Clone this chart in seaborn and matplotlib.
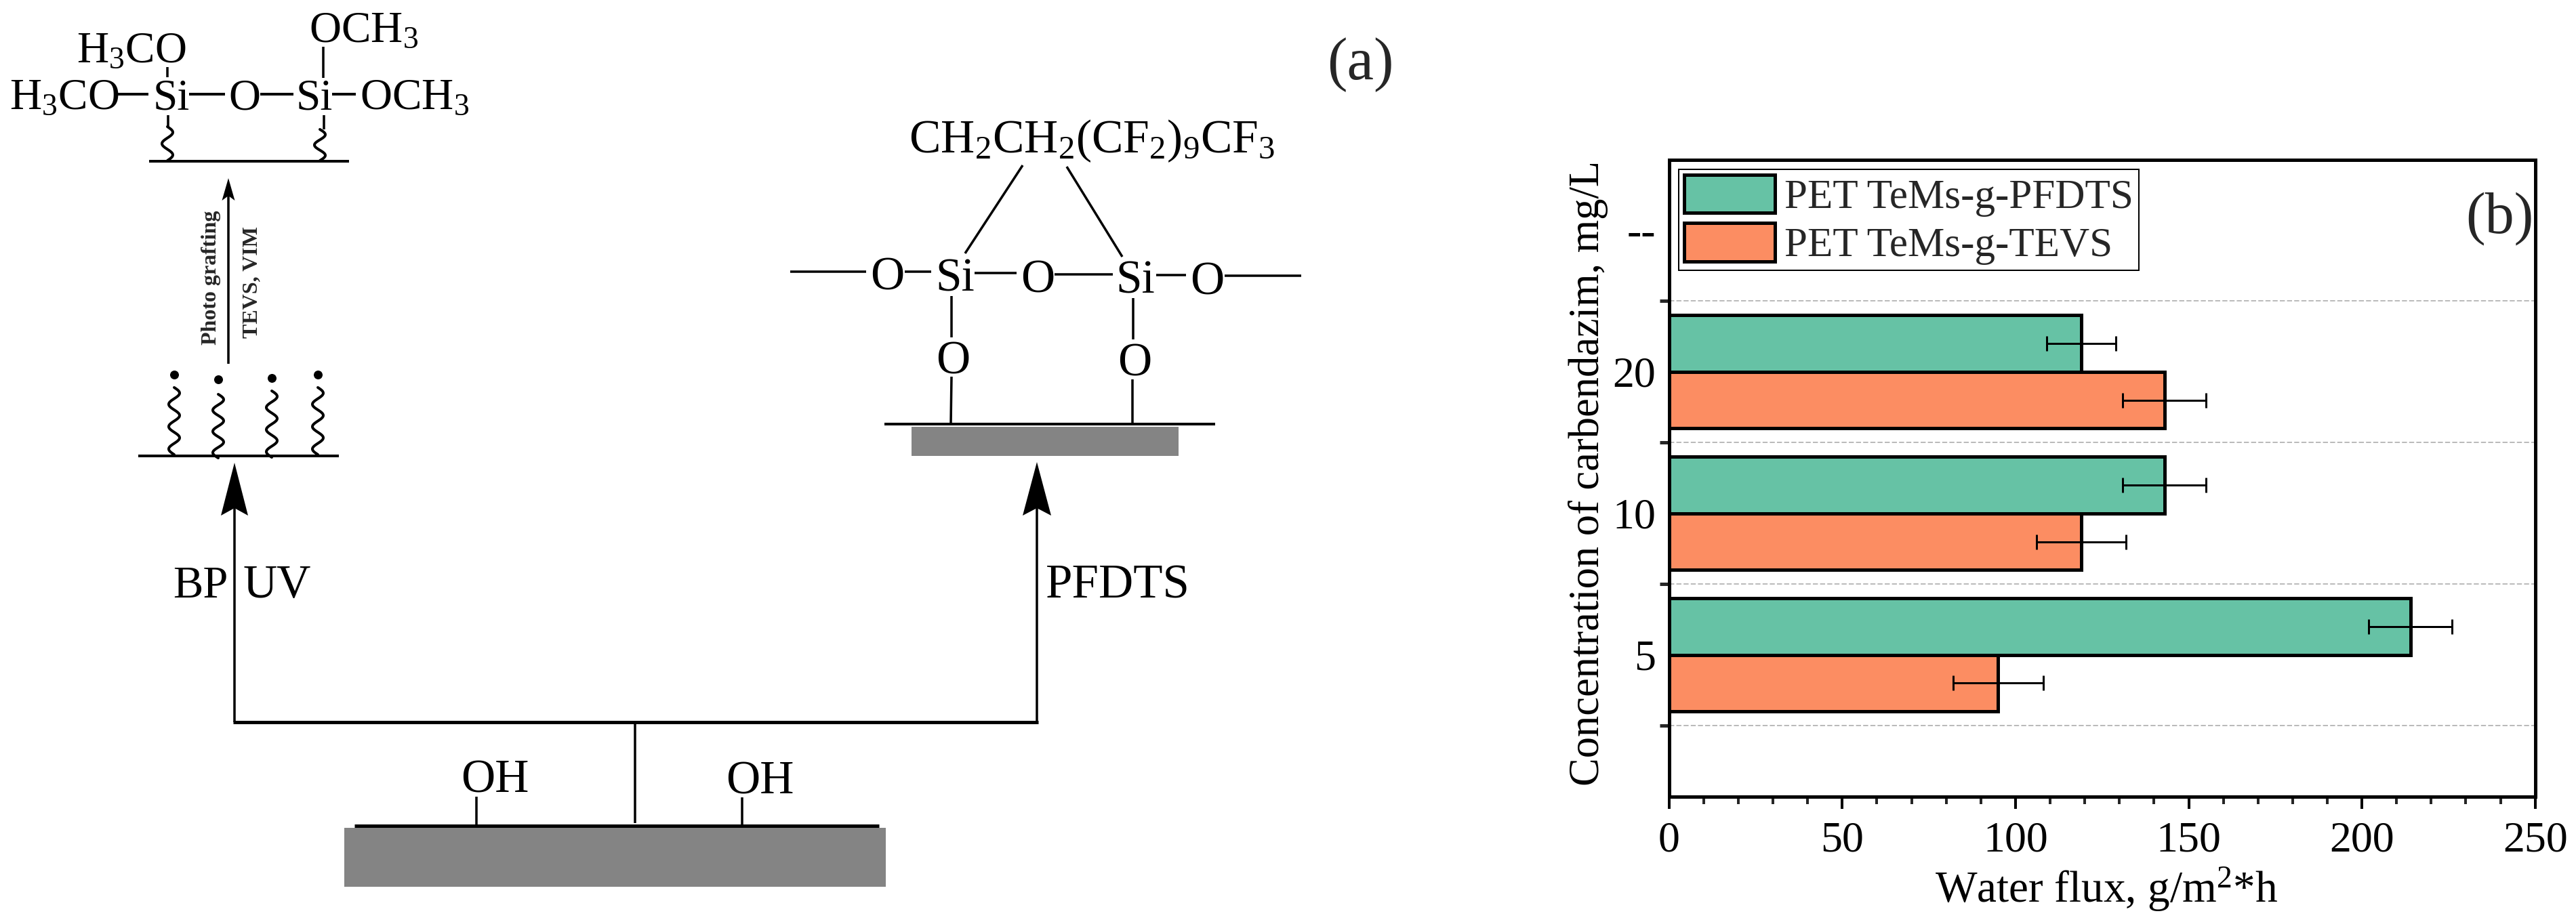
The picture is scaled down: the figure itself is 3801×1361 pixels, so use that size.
import numpy as np
import pandas as pd
import seaborn as sns
import matplotlib.pyplot as plt
from matplotlib.patches import Polygon, Rectangle

# panel (b) values
concentrations = ["5", "10", "20"]
flux_pfdts = [214, 143, 119]
flux_tevs = [95, 119, 143]
err_pfdts = [12, 12, 10]
err_tevs = [13, 13, 12]
order = ["--", "20", "10", "5"]
membranes = ["PET TeMs-g-PFDTS", "PET TeMs-g-TEVS"]
flux_ticks = [0, 50, 100, 150, 200, 250]

W, H = 3801, 1361
SERIF = "Liberation Serif"

sns.set_theme(style="white", palette="Set2")
plt.rcParams["font.family"] = [SERIF, "DejaVu Serif"]
plt.rcParams["mathtext.fontset"] = "custom"
plt.rcParams["mathtext.rm"] = SERIF
plt.rcParams["mathtext.it"] = SERIF
plt.rcParams["mathtext.bf"] = SERIF + ":bold"

fig = plt.figure(figsize=(W / 100, H / 100), dpi=100, facecolor="white")

# scheme (a) is drawn in pixel coordinates of the figure
sk = fig.add_axes([0, 0, 1, 1])
sk.set_xlim(0, W)
sk.set_ylim(H, 0)
sk.axis("off")


def px(p):
    return p * 0.72


def bond(x0, y0, x1, y1, w=3.5):
    sk.plot([x0, x1], [y0, y1], color="black", lw=px(w), solid_capstyle="butt")


def label(x, y, s, size=47, **kw):
    sk.text(x, y, s, fontsize=size, ha="left", va="baseline", color="black", **kw)


def wiggle(x, y0, y1, periods, amp=8):
    t = np.linspace(0, 1, 120)
    sk.plot(x + amp * np.sin(2 * np.pi * periods * t), y0 + (y1 - y0) * t,
            color="black", lw=px(4))


def arrow(x, tip, tail, half, head, notch, w=3.5):
    bond(x, tail, x, tip + head * 0.5, w)
    sk.add_patch(Polygon([(x, tip), (x - half, tip + head), (x, tip + notch),
                          (x + half, tip + head)], closed=True, fc="black", ec="none"))


# lower left: substrate with OH groups
sk.add_patch(Rectangle((508, 1222), 799, 87, fc="#848484", ec="none"))
bond(523, 1219, 1297, 1219, 5)
bond(703, 1176, 703, 1217)
bond(1095, 1177, 1095, 1217)
bond(937, 1067, 937, 1215)
label(680, 1170, "OH", size=50)
label(1071, 1171, "OH", size=50)
bond(344, 1065.5, 1532, 1065.5, 5)
arrow(346, 683, 1066, 20, 78, 67)
arrow(1530, 682, 1066, 21, 79, 68)
label(255, 882, "BP", size=48)
label(358, 882, "UV", size=50)
label(1543, 882, "PFDTS", size=51)

# radicals on the photo-grafted surface
bond(204, 673, 500, 673, 4)
for x, dot_y, y0, y1 in [(257, 553, 572, 671), (322, 560, 582, 676),
                         (401, 558, 577, 675), (469, 553, 572, 671)]:
    sk.plot([x], [dot_y], "o", color="black", ms=px(13), mew=0)
    wiggle(x, y0, y1, 3)

arrow(337, 263, 537, 9.5, 33, 26, 3.5)
sk.text(312, 410, "Photo grafting", fontsize=23, fontweight="bold", rotation=90,
        ha="center", va="center")
sk.text(372, 417, "TEVS, VIM", fontsize=23, fontweight="bold", rotation=90,
        ha="center", va="center")

# grafted siloxane, top left
label(113, 92, r"$\mathrm{H_3CO}$")
label(14, 161, r"$\mathrm{H_3CO}$")
label(226, 161, "Si")
label(337, 161, "O")
label(437, 161, "Si")
label(531, 161, r"$\mathrm{OCH_3}$")
label(456, 62, r"$\mathrm{OCH_3}$")
for x0, x1 in [(173, 219), (279, 332), (384, 433), (490, 525)]:
    bond(x0, 139, x1, 139, 4)
bond(247, 99, 247, 114)
bond(477, 69, 477, 115)
bond(248, 170, 248, 187)
bond(478, 170, 478, 191)
wiggle(247, 187, 237, 1.5)
wiggle(472, 191, 237, 1.5)
bond(220, 237.5, 515, 237.5, 4)

# PFDTS network, top centre
sk.add_patch(Rectangle((1345, 630), 394, 43, fc="#848484", ec="none"))
bond(1305, 626, 1793, 626, 4)
label(1341, 225, r"$\mathrm{CH_2CH_2(CF_2)_9CF_3}$", size=50)
bond(1509, 244, 1424, 374)
bond(1574, 246, 1656, 379)
bond(1166, 401, 1278, 401)
bond(1335, 401, 1374, 401)
bond(1438, 402.5, 1500, 402.5)
bond(1556, 404.5, 1642, 404.5)
bond(1706, 406, 1750, 406)
bond(1807, 407, 1920, 407)
label(1284, 427, "O", size=50)
label(1380, 429, "Si", size=50)
label(1506, 431, "O", size=50)
label(1646, 432, "Si", size=50)
label(1756, 434, "O", size=50)
bond(1404, 437, 1404, 498)
label(1381, 551, "O", size=50)
bond(1404, 556, 1403, 625)
bond(1672, 440, 1672, 501)
label(1649, 554, "O", size=50)
bond(1671, 560, 1671, 628)

sk.text(1958, 117, "(a)", fontsize=64, ha="left", va="baseline")

# panel (b)
df = pd.DataFrame({
    "concentration": concentrations * 2,
    "flux": flux_pfdts + flux_tevs,
    "membrane": [membranes[0]] * 3 + [membranes[1]] * 3,
})
errors = dict(zip(zip(df["membrane"], df["concentration"]), err_pfdts + err_tevs))

ax = fig.add_axes([2462.7 / W, 1 - 1175.5 / H, 1278 / W, 940 / H])
ax.patch.set_alpha(0)
sns.barplot(data=df, x="flux", y="concentration", hue="membrane", order=order,
            hue_order=membranes, palette="Set2", saturation=1, width=0.8, gap=0,
            orient="h", errorbar=None, edgecolor="black", linewidth=px(5), ax=ax)

for container, name in zip(ax.containers, membranes):
    for bar in container:
        centre = bar.get_y() + bar.get_height() / 2
        key = (name, order[int(round(centre))])
        if key in errors:
            ax.errorbar(bar.get_width(), centre, xerr=errors[key], color="black",
                        elinewidth=px(3), capsize=px(11), capthick=px(3), zorder=5)

ax.set_xlim(0, 250)
ax.set_ylim(4, -0.5)
ax.set_xticks(flux_ticks)
ax.set_xticks([v for v in range(0, 251, 10) if v % 50], minor=True)
ax.set_yticks(np.arange(len(order)), order)
ax.set_yticks(np.arange(len(order)) + 0.5, minor=True)
ax.grid(False)
ax.grid(which="minor", axis="y", color="#bbbbbb", ls="--", lw=px(2))
ax.set_axisbelow(True)
ax.tick_params(axis="x", which="major", bottom=True, direction="out", length=px(18),
               width=px(4), labelsize=46, pad=14, colors="black")
ax.tick_params(axis="x", which="minor", bottom=True, direction="out", length=px(11),
               width=px(4))
ax.tick_params(axis="y", which="major", left=False, length=0, labelsize=46, pad=14,
               colors="black")
ax.tick_params(axis="y", which="minor", left=True, direction="out", length=px(14),
               width=px(5))
for spine in ax.spines.values():
    spine.set_visible(True)
    spine.set_color("black")
    spine.set_linewidth(px(5))

ax.set_xlabel(r"Water flux, g/m$^{2}$*h", fontsize=47, color="black")
ax.set_ylabel("Concentration of carbendazim, mg/L", fontsize=45, color="black")
ax.xaxis.set_label_coords(0.505, -0.108)
ax.yaxis.set_label_coords(-0.07, 0.507)

sns.move_legend(ax, "upper left", bbox_to_anchor=(0.011, 0.985), title=None,
                fontsize=44, frameon=True, fancybox=False, framealpha=1,
                edgecolor="black", borderaxespad=0, borderpad=0.13, labelspacing=0.15,
                handlelength=2.2, handleheight=1.05, handletextpad=0.23)
ax.get_legend().get_frame().set_linewidth(px(2))

ax.text(3638, 343, "(b)", fontsize=62, ha="left", va="baseline",
        transform=sk.transData, zorder=6)

fig.savefig("out.png", dpi=100)
